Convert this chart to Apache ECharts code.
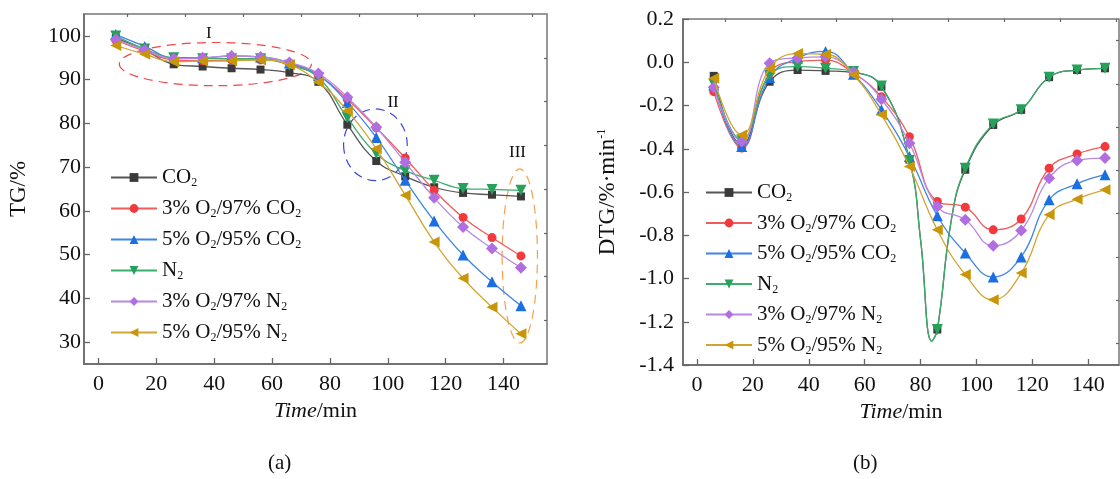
<!DOCTYPE html>
<html><head><meta charset="utf-8">
<script src="https://cdn.jsdelivr.net/npm/echarts@6/dist/echarts.min.js"></script>
<style>html,body{margin:0;padding:0;background:#fff}#c{width:1120px;height:479px}</style>
</head><body><div id="c"></div>
<script>
// ---------- data ----------
const timeMin = [6, 16, 26, 36, 46, 56, 66, 76, 86, 96, 106, 116, 126, 136, 146];
const seriesNames = ['CO2', '3% O2/97% CO2', '5% O2/95% CO2', 'N2', '3% O2/97% N2', '5% O2/95% N2'];

// tick values
const timeTicks      = [0, 20, 40, 60, 80, 100, 120, 140];
const timeMinorTicks = [10, 30, 50, 70, 90, 110, 130, 150];
const tgTicks        = [30, 40, 50, 60, 70, 80, 90, 100];
const tgMinorTicks   = [35, 45, 55, 65, 75, 85, 95];
const dtgTicks       = [-1.4, -1.2, -1.0, -0.8, -0.6, -0.4, -0.2, 0.0, 0.2];
const dtgMinorTicks  = [-1.3, -1.1, -0.9, -0.7, -0.5, -0.3, -0.1, 0.1];

// TG (%) panel (a)
const tgCO2    = [99.5, 96.8, 93.5, 93.0, 92.6, 92.3, 91.6, 89.5, 79.7, 71.4, 67.9, 65.4, 64.1, 63.7, 63.3];
const tgO3CO2  = [99.0, 96.5, 94.5, 94.3, 94.5, 94.5, 93.5, 91.0, 85.5, 79.0, 72.1, 64.7, 58.5, 53.9, 49.7];
const tgO5CO2  = [100.3, 97.6, 95.0, 95.0, 95.4, 95.2, 93.8, 91.0, 84.8, 76.8, 67.0, 57.7, 49.9, 43.8, 38.3];
const tgN2     = [100.0, 97.0, 95.0, 94.8, 94.8, 94.8, 93.3, 90.5, 81.3, 73.1, 69.2, 67.0, 65.1, 64.9, 64.7];
const tgO3N2   = [99.2, 96.8, 94.8, 95.0, 95.4, 95.2, 93.9, 91.4, 86.0, 79.1, 71.1, 63.0, 56.3, 51.4, 47.0];
const tgO5N2   = [97.8, 95.8, 94.1, 94.2, 94.3, 94.5, 93.4, 89.4, 82.9, 74.2, 63.6, 52.9, 44.6, 38.0, 31.9];

// DTG (%/min) panel (b)
const dtgCO2   = [-0.063, -0.38, -0.09, -0.036, -0.04, -0.048, -0.113, -0.45, -1.236, -0.497, -0.29, -0.22, -0.069, -0.036, -0.028];
const dtgO3CO2 = [-0.136, -0.397, -0.05, 0.003, 0.01, -0.05, -0.16, -0.344, -0.644, -0.67, -0.775, -0.725, -0.49, -0.424, -0.39];
const dtgO5CO2 = [-0.105, -0.39, -0.07, 0.02, 0.05, -0.055, -0.22, -0.436, -0.71, -0.882, -0.993, -0.90, -0.636, -0.562, -0.52];
const dtgN2    = [-0.10, -0.36, -0.06, -0.02, -0.028, -0.043, -0.11, -0.454, -1.236, -0.49, -0.285, -0.22, -0.069, -0.036, -0.028];
const dtgO3N2  = [-0.116, -0.367, -0.005, 0.02, 0.025, -0.045, -0.171, -0.374, -0.667, -0.728, -0.849, -0.778, -0.536, -0.454, -0.443];
const dtgO5N2  = [-0.074, -0.336, -0.03, 0.04, 0.037, -0.059, -0.243, -0.482, -0.775, -0.982, -1.098, -0.975, -0.705, -0.633, -0.59];
// unmarked intermediate points of the sharp CO2 / N2 DTG peak
const dipTime  = [80, 84, 91];
const dipCO2   = [-0.82, -1.29, -0.73];
const dipN2    = [-0.82, -1.29, -0.73];

// region annotations on panel (a): centre, semi-axes (data units), label position
const annoName = ['I', 'II', 'III'];
const annoCX   = [40.4, 95.7, 145.6];
const annoCY   = [93.55, 75.1, 49.7];
const annoRX   = [33.2, 11.0, 6.1];
const annoRY   = [4.94, 8.2, 19.9];
const annoLX   = [38.1, 101.8, 144.8];
const annoLY   = [100.6, 84.8, 73.4];

// ---------- styles ----------
const FONT = '"Liberation Serif", "Times New Roman", serif';
const sty = [
  {mc: '#3a3a3a', lc: '#555555', sym: 'rect', rot: 0, size: 8},
  {mc: '#f23a3c', lc: '#f25a5c', sym: 'circle', rot: 0, size: 9},
  {mc: '#1b6fe0', lc: '#3c86e6', sym: 'triangle', rot: 0, size: 11},
  {mc: '#27a05a', lc: '#3aae6c', sym: 'triangle', rot: 180, size: 11},
  {mc: '#b06ee0', lc: '#b888e4', sym: 'diamond', rot: 0, size: 12},
  {mc: '#c9960a', lc: '#d2a532', sym: 'triangle', rot: 90, size: 11}
];
const tgSets = [tgCO2, tgO3CO2, tgO5CO2, tgN2, tgO3N2, tgO5N2];
const dtgSets = [dtgCO2, dtgO3CO2, dtgO5CO2, dtgN2, dtgO3N2, dtgO5N2];
const dipSets = {0: dipCO2, 3: dipN2};

function fmtName(n) { return n.replace(/([A-Z])2/g, '$1{sub|2}'); }
const richSub = {sub: {fontFamily: FONT, fontSize: 12, lineHeight: 6, verticalAlign: 'bottom', color: '#111'}};

function mkSeries(sets, xi, yi, withDip) {
  return sets.map((arr, k) => {
    let data = timeMin.map((t, i) => [t, arr[i]]);
    if (withDip && dipSets[k]) {
      dipTime.forEach((t, j) => data.push({value: [t, dipSets[k][j]], symbol: 'none'}));
      data.sort((a, b) => (a.value || a)[0] - (b.value || b)[0]);
    }
    const s = sty[k];
    return {
      name: seriesNames[k], type: 'line', xAxisIndex: xi, yAxisIndex: yi,
      data: data, smooth: 0.45, symbol: s.sym, symbolSize: s.size, symbolRotate: s.rot,
      showAllSymbol: true,
      itemStyle: {color: s.mc}, lineStyle: {color: s.lc, width: 1.3},
      z: 3 + k
    };
  });
}

const axisLine = {show: true, onZero: false, lineStyle: {color: '#666', width: 1.5}};
const noLine = {show: false, onZero: false};
const labStyle = {fontFamily: FONT, fontSize: 22, color: '#111'};
const majorTick = vals => ({show: true, inside: true, length: 6, customValues: vals, lineStyle: {color: '#666', width: 1.3}});
const minorTick = vals => ({show: true, inside: true, length: 3, customValues: vals, lineStyle: {color: '#666', width: 1.2}});

function xMain(gi, max) {
  return {type: 'value', gridIndex: gi, min: -5, max: max,
    axisLine: axisLine, axisTick: majorTick(timeTicks),
    axisLabel: Object.assign({show: true, margin: 9, customValues: timeTicks}, labStyle),
    splitLine: {show: false},
    name: '{i|Time}{n|/min}', nameLocation: 'middle', nameGap: 34,
    nameTextStyle: {rich: {i: {fontFamily: FONT, fontSize: 22, fontStyle: 'italic', color: '#111'},
                           n: {fontFamily: FONT, fontSize: 22, color: '#111'}}}};
}
function xMinor(gi, max) {
  return {type: 'value', gridIndex: gi, min: -5, max: max,
    axisLine: noLine, axisTick: minorTick(timeMinorTicks),
    axisLabel: {show: false}, splitLine: {show: false}};
}

const option = {
  animation: false,
  backgroundColor: '#fff',
  grid: [
    {left: 84, top: 14, width: 463, height: 350, show: true, borderColor: '#777', borderWidth: 1.5, containLabel: false},
    {left: 683, top: 19, width: 436, height: 346, show: true, borderColor: '#777', borderWidth: 1.5, containLabel: false}
  ],
  xAxis: [xMain(0, 155), xMinor(0, 155), xMain(1, 151), xMinor(1, 151)],
  yAxis: [
    {type: 'value', gridIndex: 0, min: 25, max: 105,
      axisLine: axisLine, axisTick: majorTick(tgTicks),
      axisLabel: Object.assign({show: true, margin: 3, customValues: tgTicks}, labStyle),
      splitLine: {show: false},
      name: 'TG/%', nameLocation: 'middle', nameGap: 54,
      nameTextStyle: {fontFamily: FONT, fontSize: 23, color: '#111'}},
    {type: 'value', gridIndex: 0, min: 25, max: 105,
      axisLine: noLine, axisTick: minorTick(tgMinorTicks),
      axisLabel: {show: false}, splitLine: {show: false}},
    {type: 'value', gridIndex: 1, min: -1.4, max: 0.2,
      axisLine: axisLine, axisTick: majorTick(dtgTicks),
      axisLabel: Object.assign({show: true, margin: 9, customValues: dtgTicks, formatter: v => Number(v).toFixed(1)}, labStyle),
      splitLine: {show: false},
      name: '{n|DTG/%·min}{sup|-1}', nameLocation: 'middle', nameGap: 64,
      nameTextStyle: {rich: {n: {fontFamily: FONT, fontSize: 23, color: '#111'},
                             sup: {fontFamily: FONT, fontSize: 12, lineHeight: 8, verticalAlign: 'top', color: '#111'}}}},
    {type: 'value', gridIndex: 1, min: -1.4, max: 0.2,
      axisLine: noLine, axisTick: minorTick(dtgMinorTicks),
      axisLabel: {show: false}, splitLine: {show: false}}
  ],
  legend: [
    {data: seriesNames, orient: 'vertical', left: 105, top: 161, itemGap: 8, itemWidth: 46, itemHeight: 11,
      formatter: fmtName, selectedMode: false,
      textStyle: {fontFamily: FONT, fontSize: 21, lineHeight: 23, color: '#111', rich: richSub}},
    {data: seriesNames, orient: 'vertical', left: 700, top: 176, itemGap: 7.5, itemWidth: 46, itemHeight: 11,
      formatter: fmtName, selectedMode: false,
      textStyle: {fontFamily: FONT, fontSize: 21, lineHeight: 23, color: '#111', rich: richSub}}
  ],
  graphic: [
    {type: 'text', left: 268, top: 453, style: {text: '(a)', font: '21px "Liberation Serif"', fill: '#111'}},
    {type: 'text', left: 853, top: 453, style: {text: '(b)', font: '21px "Liberation Serif"', fill: '#111'}}
  ],
  series: [
    {
      type: 'custom', name: 'regions', xAxisIndex: 0, yAxisIndex: 0, clip: false, z: 2, silent: true,
      data: annoName.map((n, i) => [annoCX[i], annoCY[i], annoRX[i], annoRY[i], annoLX[i], annoLY[i], i]),
      renderItem: function (params, api) {
        const i = api.value(6);
        const c = api.coord([api.value(0), api.value(1)]);
        const sz = api.size([api.value(2), api.value(3)]);
        const rx = sz[0], ry = sz[1];
        const lp = api.coord([api.value(4), api.value(5)]);
        const colors = ['#f04848', '#3b46dc', '#f5a050'];
        const d = 'M' + (c[0] - rx) + ' ' + c[1] + ' A' + rx + ' ' + ry + ' 0 1 0 ' + (c[0] + rx) + ' ' + c[1] +
                  ' A' + rx + ' ' + ry + ' 0 1 0 ' + (c[0] - rx) + ' ' + c[1];
        return {type: 'group', children: [
          {type: 'path', shape: {pathData: d}, style: {fill: null, stroke: colors[i], lineWidth: 1.2, lineDash: [9, 6]}},
          {type: 'text', x: lp[0], y: lp[1], style: {text: annoName[i], fontFamily: FONT, fontSize: 17, fill: '#111', align: 'center', verticalAlign: 'middle'}}
        ]};
      }
    }
  ].concat(mkSeries(tgSets, 0, 0, false)).concat(mkSeries(dtgSets, 2, 2, true))
};

const chart = echarts.init(document.getElementById('c'), null, {renderer: 'canvas'});
chart.setOption(option);
</script>
</body></html>
